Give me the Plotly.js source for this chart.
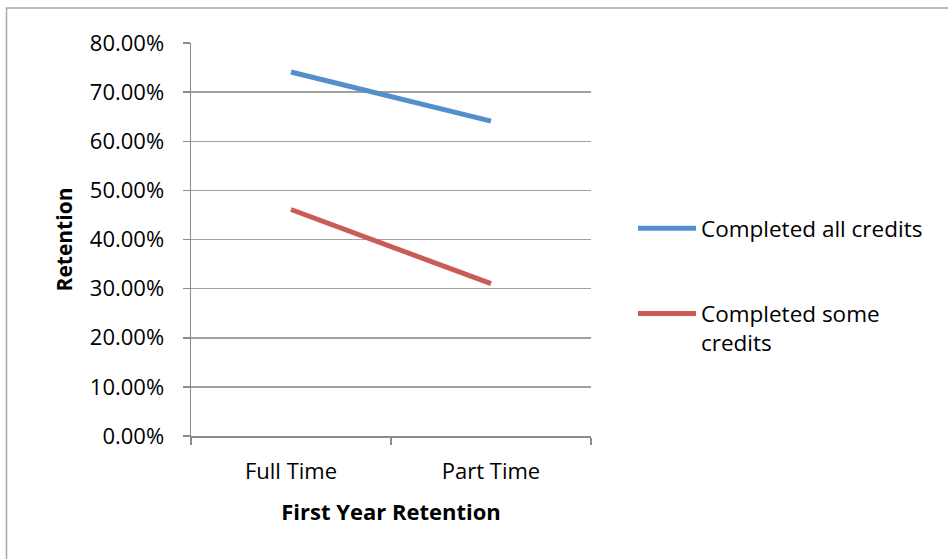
<!DOCTYPE html>
<html>
<head>
<meta charset="utf-8">
<script src="https://cdn.plot.ly/plotly-3.0.1.min.js"></script>
<style>
html,body{margin:0;padding:0;background:#fff;}
#chart{width:948px;height:559px;}
</style>
</head>
<body>
<div id="chart"></div>
<script>
var categories = ["Full Time", "Part Time"];
var seriesNames = ["Completed all credits", "Completed some<br>credits"];
var completedAll = [0.741, 0.641];
var completedSome = [0.461, 0.310];
var yTickVals = [0, 0.1, 0.2, 0.3, 0.4, 0.5, 0.6, 0.7, 0.8];
var yTickText = ["0.00%", "10.00%", "20.00%", "30.00%", "40.00%", "50.00%", "60.00%", "70.00%", "80.00%"];

var W = 948, H = 559;
var m = {l: 191, r: 357, t: 43, b: 123};
var pw = W - m.l - m.r, ph = H - m.t - m.b;
function px2x(px){ return (px - m.l) / pw; }
function px2y(py){ return (H - m.b - py) / ph; }

var font = "'Open Sans', 'Liberation Sans', sans-serif";

var traces = [
  {x: categories, y: completedAll, name: seriesNames[0], type: "scatter", mode: "lines",
   line: {color: "#558fcb", width: 5}, legendgroup: "a"},
  {x: categories, y: completedSome, name: seriesNames[1], type: "scatter", mode: "lines",
   line: {color: "#cb5b55", width: 5}, legendgroup: "b"}
];

var layout = {
  width: W, height: H,
  margin: m,
  paper_bgcolor: "#fff", plot_bgcolor: "#fff",
  font: {family: font, size: 22, color: "#000"},
  showlegend: true,
  legend: {x: px2x(633), xanchor: "left", y: px2y(207), yanchor: "top",
           font: {family: font, size: 22.5, color: "#000"},
           valign: "top",
           tracegroupgap: 53, itemwidth: 58, bgcolor: "rgba(0,0,0,0)"},
  xaxis: {
    type: "category", range: [-0.5, 1.5],
    showgrid: false, showline: true, linecolor: "#8c8c8c", linewidth: 1.5,
    ticks: "outside", tickson: "boundaries", ticklen: 7, tickcolor: "#8c8c8c", tickwidth: 1.5,
    ticklabelstandoff: 15,
    tickfont: {family: font, size: 22, color: "#000"},
    title: {text: "<b>First Year Retention</b>", font: {family: font, size: 22, color: "#000"}, standoff: 20},
    zeroline: false
  },
  yaxis: {
    range: [0, 0.8], tickvals: yTickVals, ticktext: yTickText,
    showgrid: true, gridcolor: "#a0a0a0", gridwidth: 1.5,
    showline: true, linecolor: "#8c8c8c", linewidth: 1.5,
    ticks: "outside", ticklen: 7, tickcolor: "#8c8c8c", tickwidth: 1.5,
    ticklabelstandoff: 14,
    tickfont: {family: font, size: 22, color: "#000"},
    title: {text: "<b>Retention</b>", font: {family: font, size: 21, color: "#000"}, standoff: 11},
    zeroline: false
  },
  shapes: [{
    type: "rect", xref: "paper", yref: "paper",
    x0: px2x(6.5), x1: px2x(960), y0: px2y(580), y1: px2y(8),
    line: {color: "#a6a6a6", width: 1.5}, fillcolor: "rgba(0,0,0,0)", layer: "below"
  }]
};

Plotly.newPlot("chart", traces, layout, {displayModeBar: false, staticPlot: true});
</script>
</body>
</html>
